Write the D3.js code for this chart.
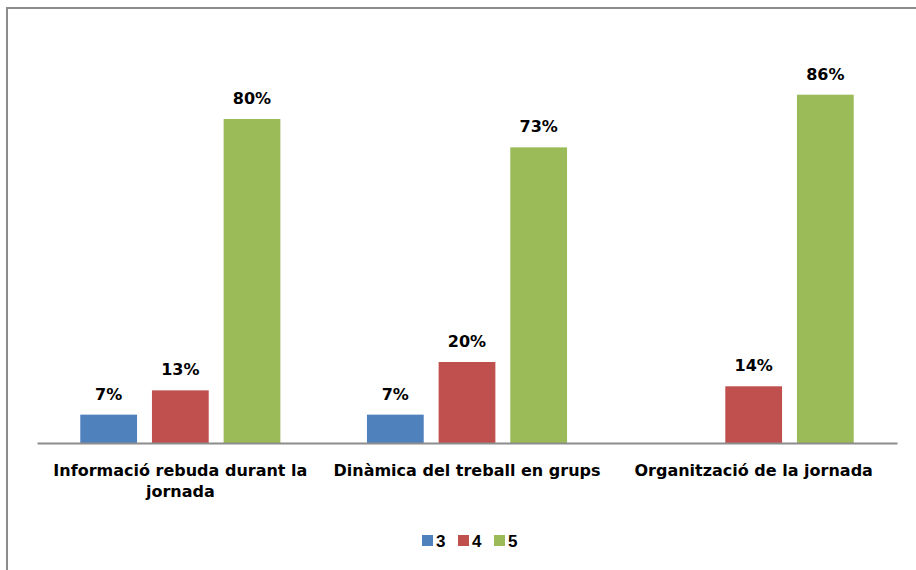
<!DOCTYPE html>
<html lang="ca">
<head>
	<meta charset="UTF-8">
	<title>Valoració</title>
	<script src="https://cdn.jsdelivr.net/npm/d3@7/dist/d3.min.js"></script>
	<style>
		body { margin: 0; background: #fff; }
		.cat-label, .val-label { font-family: "DejaVu Sans", sans-serif; font-weight: bold; fill: #000; }
		.cat-label { font-size: 16px; }
		.val-label { font-size: 16px; }
		.legend text { font-family: "Liberation Sans", Arial, sans-serif; font-weight: bold; font-size: 17px; }
	</style>
</head>
<body>
	<div id="container"></div>
	<script>
		width = 916;
		height = 570;

		var categories = ["Informació rebuda durant la jornada", "Dinàmica del treball en grups", "Organització de la jornada"];
		var seriesNames = ["3", "4", "5"];
		var values3 = [7, 7, null];
		var values4 = [13, 20, 14];
		var values5 = [80, 73, 86];
		var colors = ["#4F81BD", "#C0504D", "#9BBB59"];

		var series = [values3, values4, values5];

		var svg = d3.select("#container").append("svg")
				.attr("width", width)
				.attr("height", height);

		// chart frame, runs off the right and bottom edges
		svg.append("rect")
				.attr("x", 7)
				.attr("y", 8)
				.attr("width", 960)
				.attr("height", 620)
				.attr("fill", "none")
				.attr("stroke", "#8c8c8c")
				.attr("stroke-width", 2);

		var x0 = d3.scaleBand()
				.domain(categories)
				.range([37, 897])
				.paddingInner(0.302)
				.paddingOuter(0.151);

		var x1 = d3.scaleBand()
				.domain(seriesNames)
				.range([0, x0.bandwidth()])
				.paddingInner(0.208);

		var y = d3.scaleLinear()
				.domain([0, 100])
				.range([443, 38]);

		var groups = svg.selectAll(".group").data(categories)
			.enter().append("g")
				.attr("class", "group")
				.attr("transform", (d) => "translate(" + x0(d) + ",0)");

		groups.each(function(cat, ci) {
			var g = d3.select(this);
			var rows = seriesNames.map((s, si) => ({ s: s, v: series[si][ci], c: colors[si] }))
				.filter((r) => r.v !== null);

			g.selectAll("rect").data(rows)
				.enter().append("rect")
					.attr("x", (d) => x1(d.s))
					.attr("y", (d) => y(d.v))
					.attr("width", x1.bandwidth())
					.attr("height", (d) => y(0) - y(d.v))
					.attr("fill", (d) => d.c);

			g.selectAll(".val-label").data(rows)
				.enter().append("text")
					.attr("class", "val-label")
					.attr("x", (d) => x1(d.s) + x1.bandwidth() / 2)
					.attr("y", (d) => y(d.v) - 15)
					.attr("text-anchor", "middle")
					.text((d) => d.v + "%");
		});

		// category axis
		var xAxis = d3.axisBottom(x0).tickSize(0).tickSizeOuter(0);
		var axisG = svg.append("g")
				.attr("transform", "translate(0," + y(0) + ")")
				.call(xAxis);
		axisG.select(".domain")
				.attr("stroke", "#8c8c8c")
				.attr("stroke-width", 2);
		axisG.selectAll(".tick text")
				.attr("class", "cat-label")
				.attr("font-family", null)
				.attr("font-size", null)
				.attr("y", 33)
				.attr("dy", 0)
				.call(wrap, x0.step() - 8);

		function wrap(texts, maxw) {
			texts.each(function() {
				var text = d3.select(this);
				var words = text.text().split(/\s+/);
				var line = [];
				var lineNo = 0;
				var yy = text.attr("y");
				text.text(null);
				var tspan = text.append("tspan").attr("x", 0).attr("y", yy);
				words.forEach(function(w) {
					line.push(w);
					tspan.text(line.join(" "));
					if (tspan.node().getComputedTextLength() > maxw && line.length > 1) {
						line.pop();
						tspan.text(line.join(" "));
						line = [w];
						lineNo++;
						tspan = text.append("tspan").attr("x", 0).attr("y", +yy + lineNo * 21).text(w);
					}
				});
			});
		}

		// legend
		var legend = svg.append("g").attr("class", "legend");
		var lx = d3.scaleOrdinal().domain(seriesNames).range([422, 458, 494]);
		seriesNames.forEach(function(s, i) {
			legend.append("rect")
					.attr("x", lx(s))
					.attr("y", 535)
					.attr("width", 11)
					.attr("height", 11)
					.attr("fill", colors[i]);
			legend.append("text")
					.attr("x", lx(s) + 14)
					.attr("y", 547)
					.text(s);
		});
	</script>
</body>
</html>
